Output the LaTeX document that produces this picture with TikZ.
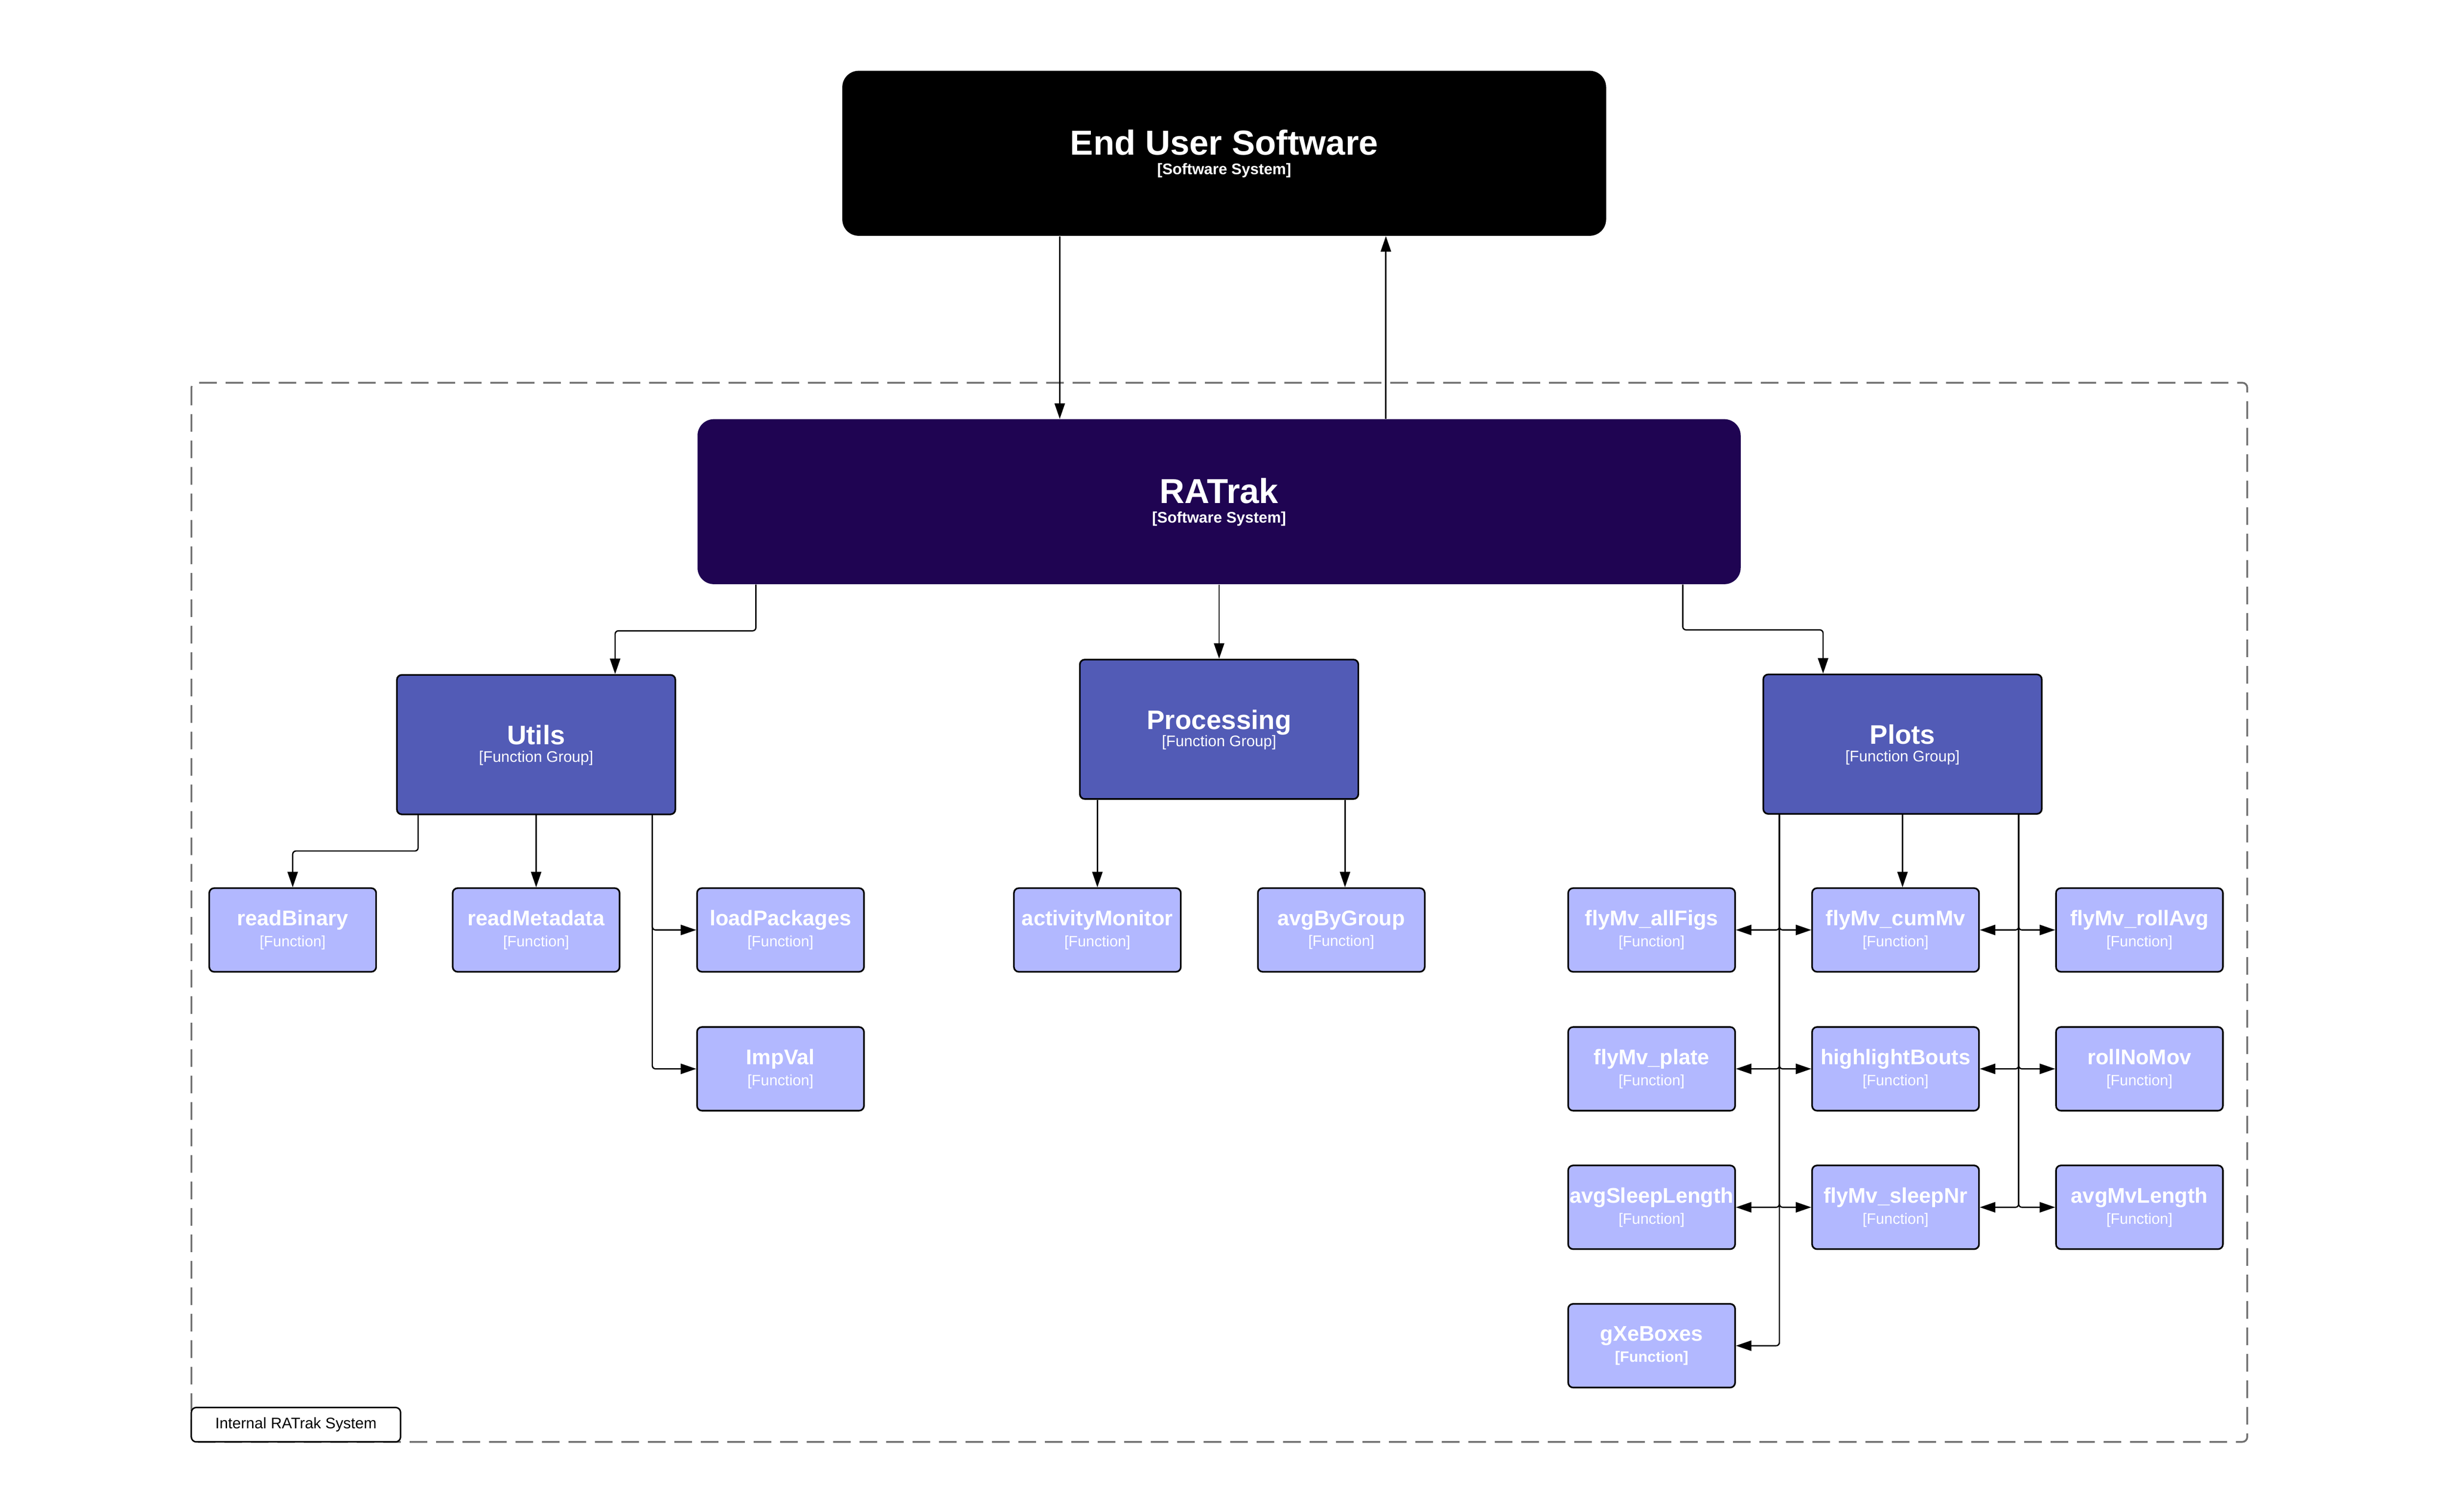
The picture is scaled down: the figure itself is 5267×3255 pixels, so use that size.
\documentclass[tikz,border=0pt]{standalone}
\usepackage{fontspec}
\setmainfont{Liberation Sans}
\usetikzlibrary{arrows.meta}

\definecolor{ratrakpurple}{RGB}{31,4,82}
\definecolor{groupblue}{RGB}{82,91,182}
\definecolor{funcblue}{RGB}{178,184,255}
\definecolor{boundgray}{RGB}{112,112,112}

\newcommand{\systitle}[1]{{\fontsize{21.2}{22}\selectfont\rule{0pt}{16pt}#1}\\{[Software System]}}
\newcommand{\grptitle}[1]{{\fontsize{16.4}{17}\selectfont\bfseries\rule{0pt}{12.4pt}#1}\\{[Function Group]}}
\newcommand{\fnname}[1]{{\fontsize{13}{13}\selectfont\bfseries #1}\\{[Function]}}

\tikzset{
    sysbox/.style={text=white, align=center, rounded corners=10pt, inner sep=0pt,
        minimum height=3.55cm, font=\fontsize{9.4}{11.9}\selectfont\bfseries},
    groupbox/.style={draw=black, line width=1pt, fill=groupblue, text=white, align=center,
        rounded corners=3pt, inner sep=0pt, minimum width=5.99cm, minimum height=3cm,
        font=\fontsize{9.4}{10.7}\selectfont},
    funcbox/.style={draw=black, line width=1pt, fill=funcblue, text=white, align=center,
        rounded corners=3pt, inner sep=0pt, minimum width=3.59cm, minimum height=1.8cm,
        font=\fontsize{9.2}{12.8}\selectfont},
    arr/.style={line width=0.8pt, rounded corners=2pt, -{Triangle[length=9.5pt,width=6.3pt]}},
    boundary/.style={draw=boundgray, line width=1.1pt, dash pattern=on 10.8pt off 5.4pt, rounded corners=3pt},
    legendbox/.style={draw=black, line width=0.9pt, fill=white, rounded corners=3pt, inner sep=0pt,
        minimum width=4.5cm, minimum height=0.74cm, font=\fontsize{9.4}{11}\selectfont}
}

\begin{document}
\begin{tikzpicture}[x=0.01cm, y=-0.01cm]
        \useasboundingbox (0,0) rectangle (5267,3255);
        \draw[boundary] (412,824) rectangle (4837,3104);
        \node[legendbox] (legend) at (637,3067) {Internal RATrak System};

        \node[sysbox, fill=black, minimum width=16.43cm] (eus) at (2635,330) {\systitle{End User Software}};
        \node[sysbox, fill=ratrakpurple, minimum width=22.44cm] (ratrak) at (2624,1080) {\systitle{RATrak}};

        \node[groupbox] (utils) at (1154,1603) {\grptitle{Utils}};
        \node[groupbox] (procs) at (2624,1570) {\grptitle{Processing}};
        \node[groupbox] (plots) at (4095,1602) {\grptitle{Plots}};

        \foreach \nm/\x/\y/\txt in {readBinary/630/2002/readBinary, readMeta/1154/2002/readMetadata,
            loadPkg/1680/2002/loadPackages, impVal/1680/2301/ImpVal,
            actMon/2362/2002/activityMonitor, avgGroup/2887/2002/avgByGroup,
            allFigs/3555/2002/flyMv\_allFigs, cumMv/4080/2002/flyMv\_cumMv, rollAvg/4605/2002/flyMv\_rollAvg,
            plate/3555/2301/flyMv\_plate, highlight/4080/2301/highlightBouts, rollNoMov/4605/2301/rollNoMov,
            sleepLen/3555/2599/avgSleepLength, sleepNr/4080/2599/flyMv\_sleepNr, mvLength/4605/2599/avgMvLength} {
            \node[funcbox] (\nm) at (\x,\y) {\fnname{\txt}};
        }
        \node[funcbox] (gXe) at (3555,2897) {{\fontsize{13}{13}\selectfont\bfseries gXeBoxes}\\{\bfseries[Function]}};

        % system level
        \draw[arr] (2281,0 |- eus.south) -- (2281,0 |- ratrak.north);
        \draw[arr] (2983,0 |- ratrak.north) -- (2983,0 |- eus.south);
        \draw[arr] (1627,0 |- ratrak.south) |- (1324,1358) -- (1324,0 |- utils.north);
        \draw[arr] (ratrak.south) -- (procs.north);
        \draw[arr] (3622,0 |- ratrak.south) |- (3924,1356) -- (3924,0 |- plots.north);

        % utils
        \draw[arr] (900,0 |- utils.south) |- (630,1832) -- (readBinary.north);
        \draw[arr] (utils.south) -- (readMeta.north);
        \foreach \n in {loadPkg, impVal}
            \draw[arr] (1404,0 |- utils.south) |- (\n.west);

        % processing
        \draw[arr] (2362,0 |- procs.south) -- (actMon.north);
        \draw[arr] (2895,0 |- procs.south) -- (2895,0 |- avgGroup.north);

        % plots
        \draw[arr] (4095,0 |- plots.south) -- (4095,0 |- cumMv.north);
        \foreach \n in {allFigs, plate, sleepLen, gXe}
            \draw[arr] (3830,0 |- plots.south) |- (\n.east);
        \foreach \n in {cumMv, highlight, sleepNr}
            \draw[arr] (3830,0 |- plots.south) |- (\n.west);
        \foreach \n in {cumMv, highlight, sleepNr}
            \draw[arr] (4345,0 |- plots.south) |- (\n.east);
        \foreach \n in {rollAvg, rollNoMov, mvLength}
            \draw[arr] (4345,0 |- plots.south) |- (\n.west);
\end{tikzpicture}
\end{document}
